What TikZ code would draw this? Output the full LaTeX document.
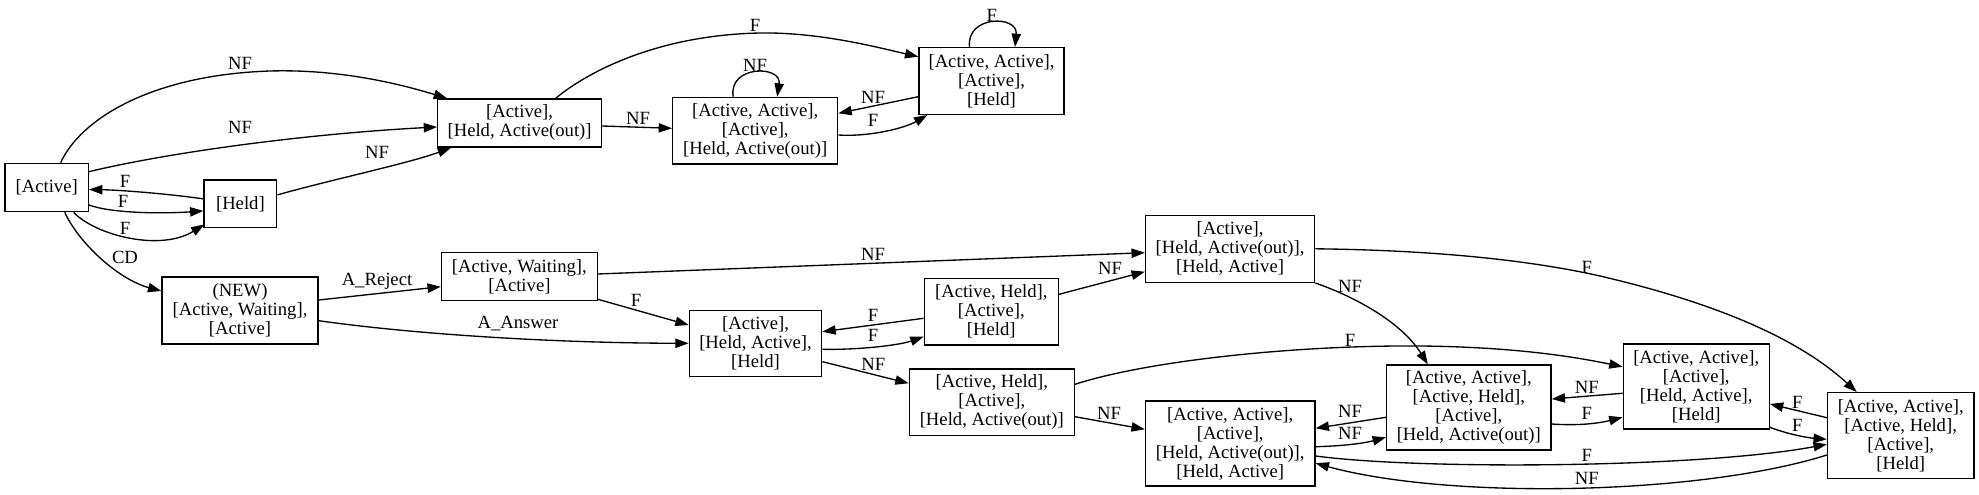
\documentclass[tikz,border=0pt]{standalone}
\usepackage{fontspec}
\setmainfont{Liberation Serif}
\usetikzlibrary{arrows.meta,calc}
\tikzset{
  st/.style={draw, line width=1pt, rectangle, align=center, inner sep=0pt, font=\fontsize{14}{14.25}\selectfont},
  e/.style={draw, line width=1pt, -{Triangle[length=10pt,width=7pt]}},
  lab/.style={font=\fontsize{14}{14}\selectfont, inner sep=0pt}
}
\newcommand{\nl}{\\\relax}
\begin{document}
\begin{tikzpicture}[x=0.75pt,y=-0.75pt]
\useasboundingbox (0,0) rectangle (1979,495);
% nodes
\node[st, minimum width=62.5pt, minimum height=36.3pt] (A) at (46.7,187.5) {[Active]};
\node[st, minimum width=54.5pt, minimum height=35.8pt] (H) at (240.4,203.9) {[Held]};
\node[st, minimum width=122.8pt, minimum height=36pt] (B) at (519.6,123) {[Active],\nl[Held, Active(out)]};
\node[st, minimum width=123.8pt, minimum height=50pt] (C) at (755.2,130.7) {[Active, Active],\nl[Active],\nl[Held, Active(out)]};
\node[st, minimum width=108.8pt, minimum height=50pt] (D) at (991.5,81) {[Active, Active],\nl[Active],\nl[Held]};
\node[st, minimum width=117pt, minimum height=50.3pt] (N) at (240,310.5) {(NEW)\nl[Active, Waiting],\nl[Active]};
\node[st, minimum width=116.8pt, minimum height=36pt] (W) at (519.4,276.7) {[Active, Waiting],\nl[Active]};
\node[st, minimum width=99.3pt, minimum height=49.5pt] (E) at (755.5,343.7) {[Active],\nl[Held, Active],\nl[Held]};
\node[st, minimum width=100.5pt, minimum height=50pt] (F) at (991.3,311.7) {[Active, Held],\nl[Active],\nl[Held]};
\node[st, minimum width=126.9pt, minimum height=50.3pt] (G) at (1230.1,248.8) {[Active],\nl[Held, Active(out)],\nl[Held, Active]};
\node[st, minimum width=123.8pt, minimum height=50pt] (I) at (991.8,402.3) {[Active, Held],\nl[Active],\nl[Held, Active(out)]};
\node[st, minimum width=127.1pt, minimum height=63.8pt] (J) at (1230.2,443.5) {[Active, Active],\nl[Active],\nl[Held, Active(out)],\nl[Held, Active]};
\node[st, minimum width=123.3pt, minimum height=63.8pt] (K) at (1468.8,407.5) {[Active, Active],\nl[Active, Held],\nl[Active],\nl[Held, Active(out)]};
\node[st, minimum width=109.5pt, minimum height=63.8pt] (L) at (1696.2,386.5) {[Active, Active],\nl[Active],\nl[Held, Active],\nl[Held]};
\node[st, minimum width=109.8pt, minimum height=64.2pt] (M) at (1900.7,435.5) {[Active, Active],\nl[Active, Held],\nl[Active],\nl[Held]};
% edges top
\draw[e] ($(A.north)+(14,0)$) .. controls (80,120) and (150,75) .. (270,71) .. controls (340,69) and (400,84) .. ($(B.north west)+(10,0)$) node[lab, at={(240,63)}] {NF};
\draw[e] ($(A.north east)+(0,9)$) .. controls (180,150) and (320,133) .. ($(B.west)+(0,4)$) node[lab, at={(240,127)}] {NF};
\draw[e] ($(H.east)+(0,-9)$) .. controls (330,180) and (410,163) .. ($(B.south west)+(14,0)$) node[lab, at={(377,152)}] {NF};
\draw[e] ($(H.west)+(0,-5)$) .. controls (170,194) and (120,190) .. ($(A.east)+(0,2)$) node[lab, at={(125,181.7)}] {F};
\draw[e] ($(A.east)+(0,17.5)$) .. controls (110,213) and (160,214) .. ($(H.west)+(0,7)$) node[lab, at={(123,201)}] {F};
\draw[e] ($(A.south)+(27,0)$) .. controls (95,235) and (160,252) .. ($(H.south west)+(1,-4)$) node[lab, at={(125,228.3)}] {F};
\draw[e] ($(A.south)+(18,0)$) .. controls (80,245) and (120,280) .. ($(N.north west)+(0,14.7)$) node[lab, at={(125,257.3)}] {CD};
\draw[e] ($(B.east)+(0,3)$) -- ($(C.west)+(0,-2.4)$) node[lab, at={(638,118)}] {NF};
\draw[e] ($(C.north)+(-22,0)$) .. controls (728,65) and (782,65) .. ($(C.north)+(22,0)$) node[lab, at={(755,65)}] {NF};
\draw[e] ($(C.east)+(0,4.3)$) .. controls (870,137) and (905,128) .. ($(D.south west)+(9,0)$) node[lab, at={(873,120)}] {F};
\draw[e] ($(D.west)+(0,15.7)$) -- ($(C.east)+(0,-17.4)$) node[lab, at={(873,97)}] {NF};
\draw[e] ($(D.north)+(-22,0)$) .. controls (966,15) and (1018,15) .. ($(D.north)+(23.5,0)$) node[lab, at={(991.7,15)}] {F};
\draw[e] ($(B.north)+(36,0)$) .. controls (590,70) and (660,35) .. (760,33) .. controls (820,32) and (880,48) .. ($(D.west)+(0,-24.3)$) node[lab, at={(755,25)}] {F};
% edges bottom
\draw[e] ($(N.east)+(0,-10.5)$) -- ($(W.west)+(0,10)$) node[lab, at={(377,281.7)}] {A\_Reject};
\draw[e] ($(N.east)+(0,10.2)$) .. controls (420,335) and (560,343) .. ($(E.west)+(0,-0.4)$) node[lab, at={(518,324)}] {A\_Answer};
\draw[e] ($(W.east)+(0,22.6)$) -- ($(E.west)+(0,-18.7)$) node[lab, at={(636,300)}] {F};
\draw[e] ($(W.east)+(0,-2.7)$) -- ($(G.west)+(0,3.9)$) node[lab, at={(873,254)}] {NF};
\draw[e] ($(F.west)+(0,6.6)$) -- ($(E.east)+(0,-12)$) node[lab, at={(873,315)}] {F};
\draw[e] ($(E.east)+(0,5.6)$) .. controls (860,350) and (900,345) .. ($(F.west)+(0,25)$) node[lab, at={(873,335.7)}] {F};
\draw[e] ($(F.east)+(0,-17.4)$) -- ($(G.west)+(0,22.9)$) node[lab, at={(1110,268)}] {NF};
\draw[e] ($(E.east)+(0,18)$) -- ($(I.west)+(0,-19)$) node[lab, at={(873.3,364)}] {NF};
\draw[e] ($(I.east)+(0,14.4)$) -- ($(J.west)+(0,-14.2)$) node[lab, at={(1109,413.3)}] {NF};
\draw[e] ($(I.east)+(0,-18)$) .. controls (1150,360) and (1300,345) .. (1420,346) .. controls (1520,347) and (1580,358) .. ($(L.west)+(0,-19.8)$) node[lab, at={(1350,340)}] {F};
\draw[e] (G.south east) .. controls (1350,295) and (1400,320) .. ($(K.north)+(-41,0)$) node[lab, at={(1350,286)}] {NF};
\draw[e] (G.east) .. controls (1420,250) and (1520,258) .. (1600,276) .. controls (1720,304) and (1800,340) .. ($(M.north)+(-44,0)$) node[lab, at={(1586.7,267)}] {F};
\draw[e] ($(K.west)+(0,9.8)$) -- ($(J.east)+(0,-15.2)$) node[lab, at={(1350,411.7)}] {NF};
\draw[e] ($(J.east)+(0,3.2)$) .. controls (1345,446) and (1365,443) .. ($(K.west)+(0,29.8)$) node[lab, at={(1350,433.3)}] {NF};
\draw[e] ($(L.west)+(0,6.8)$) -- ($(K.east)+(0,-8.5)$) node[lab, at={(1586.7,387.3)}] {NF};
\draw[e] ($(K.east)+(0,16.5)$) .. controls (1580,426) and (1600,423) .. ($(L.west)+(0,30.8)$) node[lab, at={(1586.7,413.3)}] {F};
\draw[e] ($(M.west)+(0,-17.8)$) -- ($(L.east)+(0,17.5)$) node[lab, at={(1797.3,402.7)}] {F};
\draw[e] ($(L.east)+(0,40.8)$) .. controls (1790,435) and (1810,438) .. ($(M.west)+(0,3.8)$) node[lab, at={(1797.3,425)}] {F};
\draw[e] ($(J.east)+(0,12.5)$) .. controls (1420,470) and (1700,468) .. ($(M.west)+(0,8.8)$) node[lab, at={(1586.7,455)}] {F};
\draw[e] ($(M.west)+(0,19.5)$) .. controls (1700,495) and (1450,500) .. ($(J.east)+(0,19.8)$) node[lab, at={(1586.7,478.3)}] {NF};
\end{tikzpicture}
\end{document}
